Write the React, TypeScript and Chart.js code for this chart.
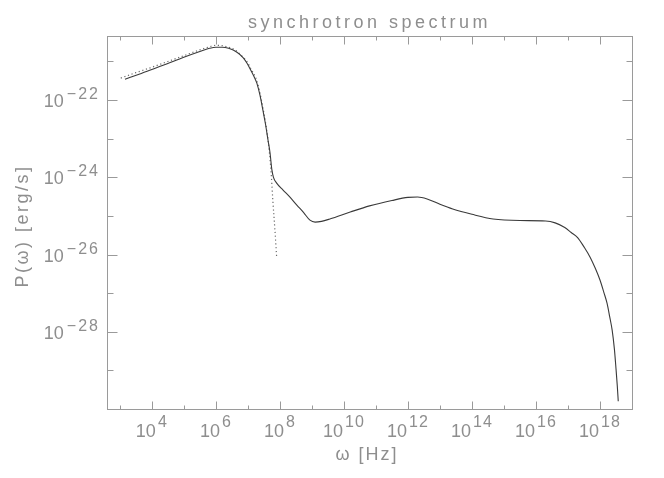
import React, { useEffect, useRef } from "react";
import { Chart, registerables } from "chart.js";

Chart.register(...registerables);

// Solid curve: total synchrotron power spectrum
const solidOmega = [
  1.45e3, 4.0e3, 1e4, 3.16e4, 1e5, 3.16e5, 6.31e5, 1e6, 1.58e6, 2.51e6,
  4.57e6, 7.08e6, 9.33e6, 1.26e7, 1.58e7, 1.91e7, 2.4e7, 2.95e7, 3.55e7, 4.27e7,
  4.9e7, 5.62e7, 6.31e7, 7.94e7, 1.26e8, 2.0e8, 3.39e8, 5.62e8, 8.71e8, 1.26e9,
  2.0e9, 3.63e9, 1.58e10, 6.31e10, 3.16e11, 1e12, 2.0e12, 3.98e12, 1e13, 2.51e13,
  1e14, 4.57e14, 3.16e15, 2.0e16, 3.98e16, 7.94e16, 1.26e17, 2.0e17, 3.16e17, 5.01e17,
  7.08e17, 1e18, 1.32e18, 1.66e18, 2.0e18, 2.4e18, 2.82e18, 3.16e18, 3.47e18, 3.72e18,
];
const solidPower = [
  3.47e-22, 4.68e-22, 6.17e-22, 8.91e-22, 1.29e-21, 1.82e-21, 2.19e-21, 2.34e-21, 2.34e-21, 2.19e-21,
  1.74e-21, 1.26e-21, 9.12e-22, 5.75e-22, 3.98e-22, 2.75e-22, 1.32e-22, 5.5e-23, 2.4e-23, 9.12e-24,
  4.47e-24, 1.58e-24, 1.0e-24, 7.08e-25, 4.68e-25, 3.16e-25, 1.91e-25, 1.2e-25, 7.76e-26, 6.92e-26,
  7.24e-26, 8.32e-26, 1.26e-25, 1.82e-25, 2.51e-25, 3.02e-25, 3.09e-25, 2.75e-25, 2.0e-25, 1.51e-25,
  1.1e-25, 8.32e-26, 7.59e-26, 7.41e-26, 6.61e-26, 5.01e-26, 3.72e-26, 2.75e-26, 1.58e-26, 8.32e-27,
  4.47e-27, 2.19e-27, 1.05e-27, 5.5e-28, 2.51e-28, 1.1e-28, 3.55e-29, 1.12e-29, 3.98e-30, 1.58e-30,
];

// Dotted curve: low-energy component
const dottedOmega = [
  1.07e3, 3.16e3, 1e4, 3.16e4, 1e5, 3.16e5, 6.31e5, 1e6, 1.58e6, 2.51e6,
  3.98e6, 6.31e6, 9.33e6, 1.26e7, 1.91e7, 2.95e7, 4.27e7, 5.25e7, 6.03e7, 6.92e7, 7.94e7,
];
const dottedPower = [
  3.72e-22, 5.13e-22, 7.08e-22, 1e-21, 1.41e-21, 2.0e-21, 2.4e-21, 2.63e-21, 2.57e-21, 2.34e-21,
  2.0e-21, 1.41e-21, 1e-21, 6.31e-22, 3.16e-22, 6.31e-23, 9.12e-24, 1.58e-24, 2.51e-25, 5.01e-26, 8.51e-27,
];

// Axis ticks (decade exponents)
const xMajorExponents = [4, 6, 8, 10, 12, 14, 16, 18];
const xMinorExponents = [3, 5, 7, 9, 11, 13, 15, 17];
const yMajorExponents = [-22, -24, -26, -28];
const yMinorExponents = [-21, -23, -25, -27, -29];

const xMin = 3.98e2;
const xMax = 1e19;
const yMin = 1e-30;
const yMax = 4.57e-21;

const titleText = "synchrotron spectrum";
const xTitle = "\u03c9 [Hz]";
const yTitle = "P(\u03c9) [erg/s]";

const AXIS = "#9a9a9a";
const TEXT = "#8e8e8e";
const FONT = "'Liberation Sans', Arial, sans-serif";

const sup = (n: number) => (n < 0 ? "\u2212" + String(-n) : String(n));

const decorPlugin = {
  id: "decor",
  afterDraw(chart: any) {
    const ctx = chart.ctx as CanvasRenderingContext2D;
    const ca = chart.chartArea;
    const xs = chart.scales.x;
    const ys = chart.scales.y;
    const L = Math.round(ca.left) + 0.5;
    const R = Math.round(ca.right) + 0.5;
    const T = Math.round(ca.top) + 0.5;
    const B = Math.round(ca.bottom) + 0.5;
    ctx.save();
    ctx.strokeStyle = AXIS;
    ctx.lineWidth = 1;
    ctx.strokeRect(L, T, R - L, B - T);

    const xTick = (e: number, len: number) => {
      const px = Math.round(xs.getPixelForValue(Math.pow(10, e))) + 0.5;
      ctx.beginPath();
      ctx.moveTo(px, B);
      ctx.lineTo(px, B - len);
      ctx.moveTo(px, T);
      ctx.lineTo(px, T + len);
      ctx.stroke();
    };
    const yTick = (e: number, len: number) => {
      const py = Math.round(ys.getPixelForValue(Math.pow(10, e))) + 0.5;
      ctx.beginPath();
      ctx.moveTo(L, py);
      ctx.lineTo(L + len, py);
      ctx.moveTo(R, py);
      ctx.lineTo(R - len, py);
      ctx.stroke();
    };
    xMajorExponents.forEach((e) => xTick(e, 8));
    xMinorExponents.forEach((e) => xTick(e, 4));
    yMajorExponents.forEach((e) => yTick(e, 10));
    yMinorExponents.forEach((e) => yTick(e, 6));

    ctx.fillStyle = TEXT;
    ctx.textBaseline = "alphabetic";
    const baseFont = "18px " + FONT;
    const expFont = "16px " + FONT;

    // x tick labels
    xMajorExponents.forEach((e) => {
      const px = xs.getPixelForValue(Math.pow(10, e));
      ctx.font = baseFont;
      (ctx as any).letterSpacing = "0px";
      const wb = ctx.measureText("10").width;
      ctx.font = expFont;
      (ctx as any).letterSpacing = "1px";
      const we = ctx.measureText(sup(e)).width;
      const gap = 2;
      const start = px - (wb + gap + we) / 2;
      ctx.textAlign = "left";
      ctx.font = baseFont;
      (ctx as any).letterSpacing = "0px";
      ctx.fillText("10", start, 437);
      ctx.font = expFont;
      (ctx as any).letterSpacing = "1px";
      ctx.fillText(sup(e), start + wb + gap, 427);
    });

    // y tick labels
    yMajorExponents.forEach((e) => {
      const py = ys.getPixelForValue(Math.pow(10, e));
      ctx.font = expFont;
      (ctx as any).letterSpacing = "2px";
      const we = ctx.measureText(sup(e)).width;
      ctx.textAlign = "left";
      ctx.fillText(sup(e), 100 - we, py - 1);
      ctx.font = baseFont;
      (ctx as any).letterSpacing = "0px";
      ctx.textAlign = "right";
      ctx.fillText("10", 100 - we - 3, py + 7);
    });

    // title
    ctx.textAlign = "center";
    ctx.font = "18px " + FONT;
    (ctx as any).letterSpacing = "3.5px";
    ctx.fillText(titleText, (ca.left + ca.right) / 2, 28);

    // x title
    ctx.font = "18px " + FONT;
    (ctx as any).letterSpacing = "2px";
    ctx.fillText(xTitle, 367, 460);

    // y title
    ctx.save();
    ctx.translate(28, 226);
    ctx.rotate(-Math.PI / 2);
    ctx.textAlign = "center";
    (ctx as any).letterSpacing = "2.5px";
    ctx.fillText(yTitle, 0, 0);
    ctx.restore();

    ctx.restore();
  },
};

export default function App() {
  const canvasRef = useRef<HTMLCanvasElement | null>(null);

  useEffect(() => {
    if (!canvasRef.current) return;
    const solid = solidOmega.map((x, i) => ({ x, y: solidPower[i] }));
    const dotted = dottedOmega.map((x, i) => ({ x, y: dottedPower[i] }));
    const chart = new Chart(canvasRef.current, {
      type: "line",
      data: {
        datasets: [
          {
            label: "total",
            data: solid,
            borderColor: "#3a3a3a",
            borderWidth: 1.1,
            pointRadius: 0,
            fill: false,
            cubicInterpolationMode: "monotone",
          },
          {
            label: "low-frequency component",
            data: dotted,
            borderColor: "#6a6a6a",
            borderWidth: 1.2,
            borderDash: [1.2, 2.6],
            pointRadius: 0,
            fill: false,
            cubicInterpolationMode: "monotone",
          },
        ],
      },
      options: {
        animation: false,
        responsive: true,
        maintainAspectRatio: false,
        parsing: true,
        layout: { padding: { left: 107, right: 32, top: 36, bottom: 69 } },
        plugins: {
          legend: { display: false },
          title: { display: false },
          tooltip: { enabled: false },
        },
        scales: {
          x: {
            type: "logarithmic",
            min: xMin,
            max: xMax,
            grid: { display: false },
            border: { display: false },
            ticks: { display: false },
            afterFit: (s: any) => {
              s.height = 0;
            },
          },
          y: {
            type: "logarithmic",
            min: yMin,
            max: yMax,
            grid: { display: false },
            border: { display: false },
            ticks: { display: false },
            afterFit: (s: any) => {
              s.width = 0;
            },
          },
        },
      } as any,
      plugins: [decorPlugin],
    });
    return () => chart.destroy();
  }, []);

  return (
    <div style={{ position: "fixed", left: 0, top: 0, width: 664, height: 478, background: "#fff" }}>
      <canvas ref={canvasRef} />
    </div>
  );
}
